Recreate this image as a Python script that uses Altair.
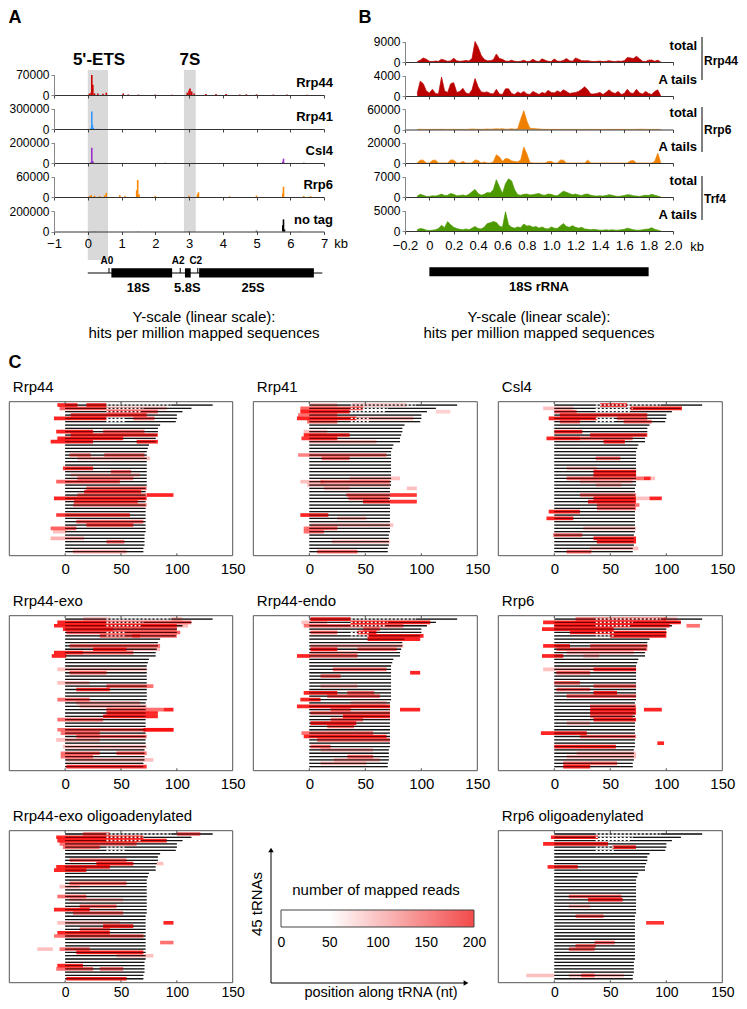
import altair as alt
import pandas as pd

W, H = 731, 993
MARGIN = 8
FONT = "Liberation Sans"
NARROW = "Liberation Sans Narrow, Liberation Sans"


def P(v):
    return v - MARGIN


# ---------------- Panel A data (spikes: kb, hits per million) ----------------
A_NAMES = ["Rrp44", "Rrp41", "Csl4", "Rrp6", "no tag"]
A_COLORS = ["#cc0000", "#3399ff", "#9933cc", "#ff8800", "#000000"]
A_YMAX = [70000, 300000, 200000, 60000, 200000]

rrp44_kb = [0.05, 0.10, 0.12, 0.15, 0.20, 0.30, 0.45, 0.55, 1.05, 1.20, 1.50, 2.00, 2.50, 2.95,
            3.00, 3.03, 3.08, 3.15, 3.50, 3.80, 4.10, 4.50, 4.70, 5.00, 5.50, 5.90, 6.50]
rrp44_hits = [5000, 8000, 68000, 35000, 6000, 5000, 4000, 8000, 5000, 2000, 1500, 1500, 1000, 8000,
              15000, 22000, 12000, 5000, 3000, 3000, 3000, 1500, 2500, 2500, 1500, 1500, 1000]
rrp41_kb = [0.10, 0.12, 0.14, 0.17, 0.30]
rrp41_hits = [20000, 255000, 60000, 15000, 3000]
csl4_kb = [0.10, 0.12, 0.15, 2.30, 5.78, 5.80, 6.40]
csl4_hits = [10000, 150000, 20000, 2000, 15000, 42000, 3000]
rrp6_kb = [0.05, 0.10, 0.20, 0.35, 0.50, 0.55, 0.95, 1.10, 1.45, 1.48, 1.52, 2.00, 3.00, 3.25,
           3.28, 4.20, 5.00, 5.78, 5.80, 6.40, 6.60]
rrp6_hits = [3000, 6000, 4000, 3000, 5000, 12000, 5000, 3000, 20000, 50000, 8000, 3000, 4000, 8000,
             14000, 2000, 4000, 10000, 30000, 3000, 3000]
notag_kb = [0.20, 1.50, 3.00, 5.00, 5.78, 5.80, 5.83, 6.30]
notag_hits = [1500, 1500, 2000, 8000, 60000, 118000, 20000, 1500]
A_KB = [rrp44_kb, rrp41_kb, csl4_kb, rrp6_kb, notag_kb]
A_HITS = [rrp44_hits, rrp41_hits, csl4_hits, rrp6_hits, notag_hits]

ets_kb = [0.0, 0.6]
s7_kb = [2.85, 3.2]
gene_start = [0.7, 2.88, 3.3]
gene_end = [2.5, 3.05, 6.7]
gene_names = ["18S", "5.8S", "25S"]
gene_label_kb = [1.5, 2.95, 4.9]
site_names = ["A0", "A2", "C2"]
site_kb = [0.63, 2.74, 3.26]
backbone_kb = [0.0, 6.95]

# ---------------- Panel B data (profiles over 18S) ----------------
b_kb = [round(-0.1 + 0.025 * i, 3) for i in range(81)]
b_rrp44_total = [200, 800, 1800, 1200, 300, 200, 400, 300, 1200, 800, 300, 500, 1600, 500, 300, 400,
                 700, 400, 1500, 9000, 6500, 3000, 1200, 500, 600, 1000, 3500, 1500, 1200, 400, 300, 800,
                 300, 200, 300, 800, 200, 300, 1200, 400, 200, 1400, 800, 300, 200, 1300, 400, 300,
                 700, 1500, 600, 300, 1800, 1200, 600, 500, 600, 300, 200, 300, 400, 200, 300, 600,
                 300, 200, 400, 300, 600, 2000, 1800, 1500, 2500, 1400, 300, 200, 800, 900, 300, 800, 0]
b_rrp44_atails = [500, 2900, 2400, 1000, 600, 1300, 500, 400, 3700, 1000, 700, 2400, 2600, 700, 900, 1500,
                  600, 400, 1200, 3400, 1800, 800, 700, 800, 500, 400, 1300, 400, 300, 1400, 1400, 500,
                  300, 800, 500, 900, 400, 300, 900, 600, 300, 700, 500, 1100, 700, 600, 1000, 700,
                  1200, 900, 500, 600, 700, 900, 1300, 1800, 1200, 400, 400, 500, 700, 300, 700, 1200,
                  700, 500, 900, 300, 500, 1300, 600, 500, 1300, 600, 400, 900, 500, 300, 900, 1200, 0]
b_rrp6_total = [300, 500, 300, 200, 200, 200, 400, 300, 500, 300, 200, 300, 500, 300, 200, 300,
                300, 600, 1500, 800, 600, 400, 600, 1500, 800, 1200, 2000, 1500, 2500, 800, 1000, 2000,
                800, 2000, 30000, 55000, 25000, 4000, 3000, 2000, 1500, 600, 400, 300, 300, 400, 200, 200,
                300, 200, 300, 200, 200, 300, 200, 200, 300, 200, 300, 200, 200, 200, 300, 200,
                200, 300, 200, 400, 200, 300, 200, 200, 300, 600, 900, 300, 200, 300, 200, 200, 0]
b_rrp6_atails = [0, 2800, 2800, 0, 0, 2500, 2800, 0, 0, 0, 0, 3000, 2800, 0, 0, 1500,
                 0, 0, 0, 3000, 2500, 0, 1000, 0, 0, 1000, 8000, 6000, 1500, 4500, 4000, 2000,
                 1500, 1000, 3000, 15500, 9000, 500, 0, 0, 0, 0, 0, 1500, 1500, 0, 0, 2800,
                 2800, 0, 0, 0, 0, 0, 0, 0, 2800, 0, 0, 0, 0, 0, 0, 0,
                 0, 0, 0, 0, 0, 0, 2000, 2400, 0, 0, 0, 0, 0, 0, 1500, 9500, 0]
b_trf4_total = [300, 900, 600, 200, 200, 400, 300, 600, 1000, 500, 600, 1200, 900, 400, 500, 700,
                400, 900, 1800, 2600, 1200, 600, 900, 1500, 1400, 2500, 5900, 3500, 1200, 4500, 6200, 5500,
                2500, 800, 600, 900, 1000, 700, 800, 1000, 1200, 700, 600, 1000, 900, 500, 400, 1200,
                2000, 1600, 1200, 800, 1000, 700, 500, 900, 1000, 600, 400, 300, 400, 300, 500, 800,
                600, 300, 200, 300, 500, 800, 700, 400, 300, 200, 400, 600, 500, 900, 600, 300, 0]
b_trf4_atails = [300, 600, 500, 200, 100, 200, 300, 600, 1400, 800, 2300, 1500, 900, 600, 400, 300,
                 500, 300, 700, 1100, 600, 500, 900, 1800, 2000, 2300, 2100, 1200, 900, 4700, 1500, 900,
                 700, 1000, 800, 1700, 1200, 1300, 900, 1100, 700, 1000, 600, 500, 1000, 700, 600, 1200,
                 1800, 1100, 900, 1300, 900, 700, 900, 500, 400, 300, 400, 300, 200, 200, 300, 200,
                 300, 200, 200, 300, 400, 700, 500, 300, 200, 200, 300, 400, 500, 800, 400, 200, 0]
B_VALUES = [b_rrp44_total, b_rrp44_atails, b_rrp6_total, b_rrp6_atails, b_trf4_total, b_trf4_atails]
B_LABELS = ["total", "A tails", "total", "A tails", "total", "A tails"]
B_COLORS = ["#bb0000", "#bb0000", "#f08000", "#f08000", "#4c9a00", "#4c9a00"]
B_YMAX = [9000, 4000, 60000, 20000, 7000, 5000]
B_GROUPS = ["Rrp44", "Rrp6", "Trf4"]
rrna18s_kb = [0.0, 1.8]

# ---------------- Panel C data (45 tRNAs) ----------------
trna_len = [132, 113, 105, 100, 100, 99, 85, 83, 83, 82, 81, 81, 75, 74,
            73, 73, 73, 73, 73, 73, 73, 73, 73, 73, 73,
            72, 72, 72, 72, 72, 72, 72, 72, 72, 72, 72, 72, 72, 72,
            71, 71, 71, 71, 70, 70]
intron_row = [0, 1, 2, 4, 5]
intron_start = [37, 37, 37, 37, 37]
intron_end = [95, 70, 68, 54, 54]

# (tRNA row, start nt, end nt, mapped reads)
rrp44_segs = [(0, -7, 11, 190), (0, 19, 37, 190), (1, -5, 37, 150), (1, 37, 91, 90), (2, 37, 83, 140),
              (3, 5, 73, 180), (4, -10, 37, 190), (4, 61, 80, 140), (8, -8, 25, 190), (8, 34, 71, 140),
              (9, 5, 83, 180), (10, -7, 52, 190), (11, -13, 25, 190), (11, 64, 83, 190), (15, 4, 23, 140),
              (15, 35, 71, 140), (16, 11, 76, 90), (19, -2, 25, 180), (20, 41, 59, 140), (21, 5, 67, 90),
              (22, 11, 61, 130), (23, -8, 49, 150), (25, 19, 73, 140), (26, 17, 68, 180), (27, 11, 73, 130),
              (27, 73, 97, 190), (28, -10, 73, 190), (29, 8, 65, 170), (30, 7, 73, 130), (33, -8, 58, 180),
              (35, 10, 70, 140), (36, 19, 61, 170), (37, -13, 10, 150), (38, -11, 1, 90), (40, -13, 17, 100),
              (41, 37, 53, 140), (44, 7, 55, 100)]
rrp41_segs = [(0, 1, 25, 90), (0, 38, 87, 90), (1, -8, 48, 150), (2, -8, 36, 190), (2, 113, 126, 80),
              (3, -10, 25, 140), (4, -11, 42, 190), (4, 42, 93, 90), (5, -2, 25, 140), (8, -5, 16, 90),
              (9, -5, 36, 190), (10, -7, 25, 180), (11, 0, 60, 90), (15, -10, 69, 130), (16, 11, 36, 140),
              (22, 36, 81, 90), (23, -8, 13, 90), (23, 10, 72, 130), (24, -2, 72, 90), (25, 13, 36, 90),
              (25, 87, 96, 90), (27, 33, 72, 140), (27, 72, 96, 180), (28, 35, 71, 140), (29, 48, 96, 180),
              (33, -8, 17, 190), (34, 25, 51, 90), (36, 1, 75, 90), (37, -5, 25, 140), (38, -5, 13, 140),
              (41, 20, 72, 90), (44, 7, 43, 140)]
csl4_segs = [(0, 41, 65, 190), (1, -10, 17, 90), (1, 68, 114, 190), (2, 0, 20, 140), (3, 5, 83, 180),
             (4, -5, 38, 190), (4, 56, 83, 140), (5, 5, 23, 140), (5, 62, 87, 140), (8, 0, 25, 190),
             (9, 32, 83, 190), (10, -7, 23, 190), (10, 23, 70, 140), (11, 44, 63, 190), (16, 37, 59, 140),
             (19, 11, 38, 90), (20, 35, 73, 190), (21, 35, 73, 190), (22, 11, 80, 140), (22, 80, 86, 190),
             (22, 86, 90, 90), (23, 23, 70, 90), (24, 37, 60, 90), (27, 23, 73, 140), (28, 35, 73, 190),
             (28, 73, 85, 90), (28, 85, 96, 190), (29, 30, 73, 190), (30, 38, 76, 140), (31, 38, 73, 140),
             (32, -5, 23, 190), (34, -7, 17, 190), (37, 26, 73, 90), (39, -1, 25, 140), (40, 35, 73, 190),
             (41, 38, 73, 190), (43, 32, 75, 90), (44, 11, 33, 140)]
exo_segs = [(0, 16, 40, 90), (0, 95, 105, 90), (1, -7, 37, 190), (1, 37, 64, 140), (1, 64, 113, 140),
            (2, -10, 100, 190), (2, 100, 110, 90), (3, -2, 43, 190), (3, 43, 100, 140), (4, 1, 103, 150),
            (5, 31, 67, 140), (5, 60, 100, 140), (8, 4, 85, 140), (9, 25, 55, 190), (9, 55, 85, 90),
            (10, -10, 16, 190), (10, 16, 61, 140), (11, -12, 1, 190), (15, -7, 73, 90), (16, 4, 37, 140),
            (19, -7, 22, 90), (20, 37, 79, 140), (21, 10, 40, 180), (24, -7, 22, 140), (25, 10, 67, 90),
            (26, 13, 73, 90), (27, 37, 88, 140), (27, 88, 97, 190), (28, 37, 83, 190), (29, 34, 83, 190),
            (30, -7, 34, 140), (33, -7, 97, 140), (33, 70, 97, 190), (34, -4, 31, 140), (35, 10, 73, 140),
            (36, -8, 31, 90), (38, -2, 73, 90), (40, -4, 31, 140), (40, 46, 73, 140), (41, -4, 25, 140),
            (42, 1, 79, 90), (44, 1, 73, 180)]
endo_segs = [(0, 1, 37, 190), (1, -7, 16, 90), (1, 37, 108, 190), (2, -5, 69, 140), (2, 69, 84, 140),
             (3, 48, 63, 140), (4, 1, 25, 140), (4, 43, 60, 190), (5, 52, 102, 190), (6, 52, 99, 190),
             (8, 1, 84, 90), (9, 1, 25, 190), (9, 43, 78, 140), (10, 1, 43, 90), (11, -11, 1, 190),
             (11, 1, 43, 140), (15, 21, 69, 140), (16, 90, 99, 190), (17, 10, 28, 140), (20, 10, 43, 90),
             (22, -5, 25, 190), (22, 34, 58, 140), (23, 16, 63, 140), (24, -8, 10, 190), (25, 37, 69, 90),
             (26, -11, 72, 190), (27, 19, 37, 140), (27, 81, 99, 190), (28, 1, 72, 140), (29, 30, 72, 190),
             (30, 19, 48, 140), (31, 1, 42, 190), (32, 16, 40, 140), (34, -7, 57, 140), (35, -5, 69, 190),
             (36, 7, 72, 140), (38, 1, 19, 140), (39, 10, 57, 90), (41, 34, 57, 140), (42, 22, 63, 90),
             (43, 10, 51, 90)]
rrp6_segs = [(0, 19, 100, 140), (0, 98, 110, 90), (1, -10, 113, 190), (2, 0, 103, 190), (2, 118, 130, 140),
             (3, -11, 53, 190), (4, 14, 100, 190), (5, 50, 100, 190), (8, -10, 14, 190), (8, 32, 83, 140),
             (9, 2, 83, 140), (10, 11, 71, 90), (11, -11, 8, 190), (11, 26, 40, 90), (15, -10, 73, 90),
             (15, 35, 73, 180), (16, 2, 32, 140), (19, 0, 23, 140), (20, 35, 73, 140), (21, 2, 32, 140),
             (22, 35, 56, 190), (23, 11, 73, 140), (26, 32, 73, 140), (27, 32, 73, 190), (27, 80, 96, 190),
             (28, 32, 73, 190), (29, 32, 70, 140), (30, 35, 73, 190), (31, 11, 32, 90), (34, -12, 29, 190),
             (35, 23, 73, 140), (37, 92, 98, 190), (38, 0, 55, 190), (40, 20, 73, 90), (41, 11, 73, 90),
             (43, 8, 56, 140), (44, 8, 32, 190)]
exo_oligo_segs = [(0, 16, 40, 140), (0, 100, 121, 140), (1, -8, 70, 190), (2, -7, 91, 190), (3, -5, 64, 140),
                  (4, -2, 31, 140), (8, 4, 55, 140), (9, 28, 61, 190), (9, 82, 88, 90), (10, -8, 40, 190),
                  (11, -10, 19, 190), (15, 4, 55, 140), (16, -5, 13, 90), (19, -7, 19, 140), (20, 4, 52, 90),
                  (22, 13, 46, 140), (23, -10, 22, 190), (24, 7, 52, 140), (27, -7, 49, 90), (27, 88, 97, 190),
                  (28, 34, 61, 190), (29, 13, 40, 140), (30, -7, 40, 190), (31, -10, 70, 140), (33, 85, 97, 140),
                  (35, -25, -11, 90), (35, -5, 22, 140), (36, 10, 70, 190), (37, 46, 79, 90), (40, -7, 16, 190),
                  (41, -8, 25, 140), (41, 31, 52, 140), (44, 1, 55, 190)]
rrp6_oligo_segs = [(1, -3, 39, 190), (3, -10, 48, 190), (4, 52, 73, 190), (10, -6, 21, 190), (19, 13, 60, 140),
                   (20, 30, 61, 190), (22, 13, 32, 90), (25, 19, 44, 140), (27, 82, 98, 180), (33, 36, 54, 140),
                   (34, 19, 37, 140), (35, 13, 36, 140), (43, -25, 0, 90), (43, 13, 62, 90), (43, 24, 36, 140)]

legend_ticks = [0, 50, 100, 150, 200]

# ====================================================================
layers = []


def add(layer):
    layers.append(layer)


def text_layer(txt, x, y, size=13, bold=False, align="center", angle=0, baseline="middle"):
    kw = dict(fontSize=size, align=align, baseline=baseline, color="black")
    if bold:
        kw["fontWeight"] = "bold"
    if angle:
        kw["angle"] = angle
    return alt.Chart(pd.DataFrame({"t": [txt]})).mark_text(**kw).encode(
        x=alt.value(P(x)), y=alt.value(P(y)), text="t:N")


def lin(domain, r0, r1):
    return alt.Scale(domain=domain, range=[P(r0), P(r1)], nice=False, zero=False)


# ---------- panel letters ----------
for letter, lx, ly in [("A", 15, 18), ("B", 365, 18), ("C", 15, 363)]:
    add(text_layer(letter, lx, ly, size=18, bold=True))

# ---------- Panel A ----------
A_X = (54, 324)
A_BASE = [95, 129, 163, 197, 231.5]
TH = 20.5


def a_x():
    return lin([-1, 7], *A_X)


for band, bottom in [(ets_kb, 260), (s7_kb, 232)]:
    add(alt.Chart(pd.DataFrame({"s": [band[0]], "e": [band[1]]})).mark_rect(color="#d9d9d9").encode(
        x=alt.X("s:Q", scale=a_x(), axis=None), x2="e:Q",
        y=alt.value(P(70)), y2=alt.value(P(bottom))))

for i, name in enumerate(A_NAMES):
    df = pd.DataFrame({"kb": A_KB[i], "hits": A_HITS[i]})
    df["zero"] = 0
    base = A_BASE[i]
    last = i == len(A_NAMES) - 1
    xaxis = alt.Axis(orient="bottom", offset=P(base) - H, values=list(range(-1, 8)), labels=last,
                     labelFontSize=13, labelPadding=3, labelFlush=False, labelOverlap=False,
                     tickSize=3, tickColor="#444", domainColor="#333", title=None, grid=False, zindex=1)
    yaxis = alt.Axis(orient="left", offset=-P(A_X[0]), values=[0, A_YMAX[i]], format="d",
                     labelFont=NARROW, labelFontSize=12, labelPadding=2, tickSize=3, labelFlush=False,
                     labelOverlap=False, tickColor="#888", domainColor="#888", title=None, grid=False, zindex=1)
    add(alt.Chart(df).mark_rule(color=A_COLORS[i], strokeWidth=1.6).encode(
        x=alt.X("kb:Q", scale=a_x(), axis=xaxis),
        y=alt.Y("hits:Q", scale=lin([0, A_YMAX[i]], base, base - TH), axis=yaxis),
        y2="zero:Q"))
    add(text_layer(name, 333, base - 12, size=13, bold=True, align="right"))

add(text_layer("5'-ETS", 99, 60, size=17, bold=True))
add(text_layer("7S", 190, 60, size=17, bold=True))
add(text_layer("kb", 341, 244, size=13))

add(alt.Chart(pd.DataFrame({"s": [backbone_kb[0]], "e": [backbone_kb[1]]})).mark_rule(
    color="black", strokeWidth=1).encode(
    x=alt.X("s:Q", scale=a_x(), axis=None), x2="e:Q", y=alt.value(P(273))))
add(alt.Chart(pd.DataFrame({"s": gene_start, "e": gene_end})).mark_rect(color="black").encode(
    x=alt.X("s:Q", scale=a_x(), axis=None), x2="e:Q", y=alt.value(P(268.3)), y2=alt.value(P(277.5))))
sites = pd.DataFrame({"kb": site_kb, "name": site_names})
add(alt.Chart(sites).mark_rule(color="black", strokeWidth=1).encode(
    x=alt.X("kb:Q", scale=a_x(), axis=None), y=alt.value(P(268)), y2=alt.value(P(273))))
add(alt.Chart(sites).mark_text(fontSize=10, fontWeight="bold", dx=-2).encode(
    x=alt.X("kb:Q", scale=a_x(), axis=None), y=alt.value(P(261)), text="name:N"))
add(alt.Chart(pd.DataFrame({"kb": gene_label_kb, "name": gene_names})).mark_text(
    fontSize=13, fontWeight="bold").encode(
    x=alt.X("kb:Q", scale=a_x(), axis=None), y=alt.value(P(288)), text="name:N"))
add(text_layer("Y-scale (linear scale):", 204, 317, size=15))
add(text_layer("hits per million mapped sequences", 204, 333, size=15))

# ---------- Panel B ----------
B_X = (405, 673)
B_BASE = [62, 96, 129.5, 163, 197, 231]


def b_x():
    return lin([-0.2, 2.0], *B_X)


b_ticks = [-0.2, 0, 0.2, 0.4, 0.6, 0.8, 1.0, 1.2, 1.4, 1.6, 1.8, 2.0]
for i, vals in enumerate(B_VALUES):
    df = pd.DataFrame({"kb": b_kb, "hits": vals})
    base = B_BASE[i]
    last = i == len(B_VALUES) - 1
    xaxis = alt.Axis(orient="bottom", offset=P(base) - H, values=b_ticks, labels=last,
                     labelExpr="datum.value == 0 ? '0' : format(datum.value, '.1f')",
                     labelFontSize=13, labelPadding=5, labelFlush=False, labelOverlap=False,
                     tickSize=3, tickColor="#444", domainColor="#333", title=None, grid=False, zindex=1)
    yaxis = alt.Axis(orient="left", offset=-P(B_X[0]), values=[0, B_YMAX[i]], format="d",
                     labelFont=NARROW, labelFontSize=12, labelPadding=2, tickSize=3, labelFlush=False,
                     labelOverlap=False, tickColor="#888", domainColor="#888", title=None, grid=False, zindex=1)
    add(alt.Chart(df).mark_area(color=B_COLORS[i], opacity=1,
                                line={"color": B_COLORS[i], "strokeWidth": 0.7}).encode(
        x=alt.X("kb:Q", scale=b_x(), axis=xaxis),
        y=alt.Y("hits:Q", scale=lin([0, B_YMAX[i]], base, base - TH), axis=yaxis)))
    add(text_layer(B_LABELS[i], 697, base - TH + 4, size=13, bold=True, align="right"))

for g, (y0, y1, ly) in zip(B_GROUPS, [(37, 80, 61), (107, 152, 129.5), (176, 220, 199)]):
    add(alt.Chart(pd.DataFrame({"g": [g]})).mark_rule(color="black", strokeWidth=1).encode(
        x=alt.value(P(702)), y=alt.value(P(y0)), y2=alt.value(P(y1))))
    add(text_layer(g, 704, ly, size=12, bold=True, align="left"))

add(text_layer("kb", 697, 247, size=13))
add(alt.Chart(pd.DataFrame({"s": [rrna18s_kb[0]], "e": [rrna18s_kb[1]]})).mark_rect(color="black").encode(
    x=alt.X("s:Q", scale=b_x(), axis=None), x2="e:Q", y=alt.value(P(267.3)), y2=alt.value(P(276.3))))
add(alt.Chart(pd.DataFrame({"kb": [0.9], "name": ["18S rRNA"]})).mark_text(fontSize=13, fontWeight="bold").encode(
    x=alt.X("kb:Q", scale=b_x(), axis=None), y=alt.value(P(287)), text="name:N"))
add(text_layer("Y-scale (linear scale):", 539, 317, size=15))
add(text_layer("hits per million mapped sequences", 539, 333, size=15))

# ---------- Panel C ----------
C_PANELS = [
    ("Rrp44", (9.3, 401.7, 232.7, 555.7), rrp44_segs),
    ("Rrp41", (253.3, 401.7, 477.3, 555.7), rrp41_segs),
    ("Csl4", (498.3, 401.7, 722.3, 555.7), csl4_segs),
    ("Rrp44-exo", (9.3, 615.7, 232.7, 770.7), exo_segs),
    ("Rrp44-endo", (253.3, 615.7, 477.3, 770.7), endo_segs),
    ("Rrp6", (498.3, 615.7, 722.3, 770.7), rrp6_segs),
    ("Rrp44-exo oligoadenylated", (9.3, 830.7, 232.7, 982.7), exo_oligo_segs),
    ("Rrp6 oligoadenylated", (498.3, 830.7, 722.3, 982.7), rrp6_oligo_segs),
]
ROW_DOMAIN = [-1.0, 45.2]
trna_df = pd.DataFrame({"row": list(range(len(trna_len))), "len": trna_len})
trna_df["start"] = 0
intron_df = pd.DataFrame({"row": intron_row, "s": intron_start, "e": intron_end})
frame_df = pd.DataFrame({"x0": [-50], "x1": [150], "y0": [ROW_DOMAIN[0]], "y1": [ROW_DOMAIN[1]]})
tick_df = pd.DataFrame({"nt": [0, 50, 100] * 2,
                        "a": [ROW_DOMAIN[0]] * 3 + [ROW_DOMAIN[1] - 0.7] * 3,
                        "b": [ROW_DOMAIN[0] + 0.7] * 3 + [ROW_DOMAIN[1]] * 3})

for title, (L, T, R, B), segs in C_PANELS:
    xs = lin([-50, 150], L, R)
    ys = lin(ROW_DOMAIN, T, B)
    bottom_row = B > 900
    seg = pd.DataFrame(segs, columns=["row", "start", "end", "reads"])
    seg["top"] = seg["row"] - 0.55
    seg["bot"] = seg["row"] + 0.55
    add(alt.Chart(trna_df).mark_rule(color="black", strokeWidth=1.3, opacity=0.85).encode(
        x=alt.X("start:Q", scale=xs, axis=None), x2="len:Q",
        y=alt.Y("row:Q", scale=ys, axis=None)))
    add(alt.Chart(seg).mark_rect(color="#ff0000").encode(
        x=alt.X("start:Q", scale=xs, axis=None), x2="end:Q",
        y=alt.Y("top:Q", scale=ys, axis=None), y2="bot:Q",
        opacity=alt.Opacity("reads:Q", scale=alt.Scale(domain=[50, 200], range=[0, 0.92]), legend=None)))
    add(alt.Chart(trna_df).mark_rule(color="black", strokeWidth=0.9, opacity=0.6).encode(
        x=alt.X("start:Q", scale=xs, axis=None), x2="len:Q",
        y=alt.Y("row:Q", scale=ys, axis=None)))
    add(alt.Chart(intron_df).mark_rule(color="white", strokeWidth=1.4, strokeDash=[2, 2]).encode(
        x=alt.X("s:Q", scale=xs, axis=None), x2="e:Q",
        y=alt.Y("row:Q", scale=ys, axis=None)))
    add(alt.Chart(tick_df).mark_rule(color="#444", strokeWidth=1).encode(
        x=alt.X("nt:Q", scale=xs, axis=None),
        y=alt.Y("a:Q", scale=ys, axis=None), y2="b:Q"))
    xaxis = alt.Axis(orient="bottom", offset=P(B) - H, values=[0, 50, 100, 150], domain=False, ticks=False,
                     tickSize=0, labelFontSize=14 if bottom_row else 15, labelPadding=3 if bottom_row else 6,
                     labelFlush=False, labelOverlap=False, title=None, grid=False)
    add(alt.Chart(frame_df).mark_rect(fillOpacity=0, stroke="#555", strokeWidth=1).encode(
        x=alt.X("x0:Q", scale=xs, axis=xaxis), x2="x1:Q",
        y=alt.Y("y0:Q", scale=ys, axis=None), y2="y1:Q"))
    add(text_layer(title, L + 3.5, T - 15, size=15, align="left"))

# ---------- legend / schematic axes ----------
one = pd.DataFrame({"v": [1]})
add(alt.Chart(one).mark_rule(color="black", strokeWidth=1).encode(
    x=alt.value(P(271)), y=alt.value(P(983)), y2=alt.value(P(851))))
add(alt.Chart(one).mark_rule(color="black", strokeWidth=1).encode(
    x=alt.value(P(271)), x2=alt.value(P(464)), y=alt.value(P(983))))
add(alt.Chart(one).mark_point(shape="triangle-up", filled=True, size=30, color="black", opacity=1).encode(
    x=alt.value(P(271)), y=alt.value(P(850))))
add(alt.Chart(one).mark_point(shape="triangle-right", filled=True, size=30, color="black", opacity=1).encode(
    x=alt.value(P(466)), y=alt.value(P(983))))
add(text_layer("45 tRNAs", 257, 904, size=15, angle=270))
add(text_layer("position along tRNA (nt)", 381, 993, size=14.5))
add(text_layer("number of mapped reads", 376, 890, size=15))

grad = alt.LinearGradient(gradient="linear",
                          stops=[alt.GradientStop(color="#ffffff", offset=0),
                                 alt.GradientStop(color="#ffffff", offset=0.25),
                                 alt.GradientStop(color="#f24a4a", offset=1)],
                          x1=0, x2=1, y1=0, y2=0)
leg_axis = alt.Axis(orient="bottom", offset=P(927) - H, values=legend_ticks, domain=False, ticks=False,
                    tickSize=0, labelFontSize=14, labelPadding=8, labelFlush=False, labelOverlap=False,
                    title=None, grid=False)
add(alt.Chart(pd.DataFrame({"a": [0], "b": [200]})).mark_rect(color=grad, stroke="#444", strokeWidth=1).encode(
    x=alt.X("a:Q", scale=lin([0, 200], 281, 474), axis=leg_axis), x2="b:Q",
    y=alt.value(P(910)), y2=alt.value(P(927))))

chart = alt.layer(*layers).resolve_scale(
    x="independent", y="independent"
).resolve_axis(
    x="independent", y="independent"
).properties(
    width=W, height=H, padding=0, autosize=alt.AutoSizeParams(type="none")
).configure(font=FONT).configure_view(strokeWidth=0).configure_axis(grid=False, labelColor="black")

chart.save("out.html", embed_options={"renderer": "svg", "actions": False})
